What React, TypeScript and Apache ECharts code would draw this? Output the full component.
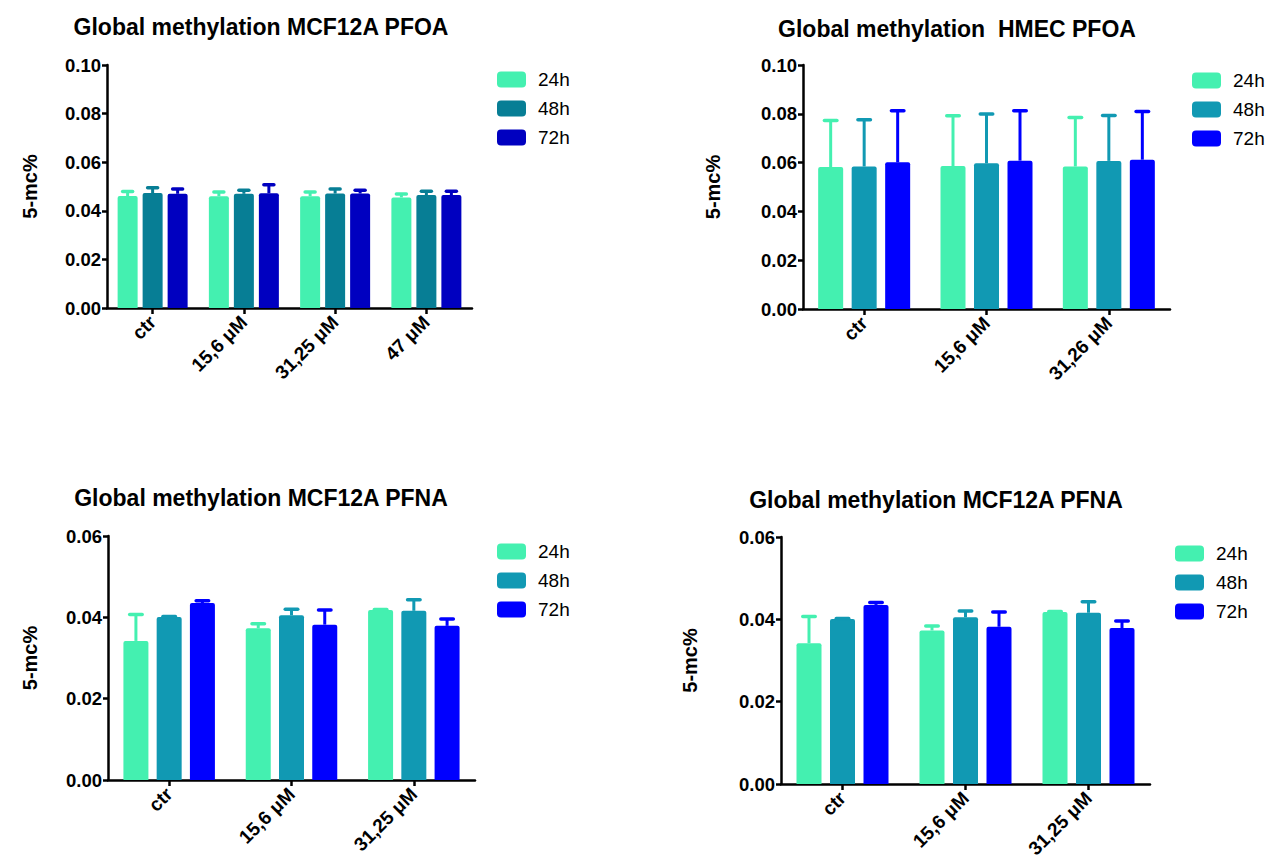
import React, { useEffect, useRef } from "react";
import * as echarts from "echarts";

// ---------- data ----------
const seriesNames = ["24h", "48h", "72h"];

// Panel 1: Global methylation MCF12A PFOA
const p1Title = "Global methylation MCF12A PFOA";
const p1Categories = ["ctr", "15,6 μM", "31,25 μM", "47 μM"];
const p1Mean24 = [0.0461, 0.046, 0.046, 0.0455];
const p1Sd24 = [0.0018, 0.0017, 0.0017, 0.0014];
const p1Mean48 = [0.0473, 0.047, 0.0471, 0.0465];
const p1Sd48 = [0.0022, 0.0015, 0.0019, 0.0015];
const p1Mean72 = [0.047, 0.0472, 0.0471, 0.0465];
const p1Sd72 = [0.002, 0.0035, 0.0014, 0.0015];
const p1Ticks = [0, 0.1, 0.02];

// Panel 2: Global methylation HMEC PFOA
const p2Title = "Global methylation  HMEC PFOA";
const p2Categories = ["ctr", "15,6 μM", "31,26 μM"];
const p2Mean24 = [0.0582, 0.0586, 0.0584];
const p2Sd24 = [0.0191, 0.0206, 0.0201];
const p2Mean48 = [0.0584, 0.0597, 0.0607];
const p2Sd48 = [0.0192, 0.0202, 0.0186];
const p2Mean72 = [0.0601, 0.0608, 0.0612];
const p2Sd72 = [0.0212, 0.0205, 0.0197];
const p2Ticks = [0, 0.1, 0.02];

// Panel 3: Global methylation MCF12A PFNA
const p3Title = "Global methylation MCF12A PFNA";
const p3Categories = ["ctr", "15,6 μM", "31,25 μM"];
const p3Mean24 = [0.0342, 0.0373, 0.0418];
const p3Sd24 = [0.0065, 0.0011, 0.0001];
const p3Mean48 = [0.0401, 0.0405, 0.0416];
const p3Sd48 = [0.0001, 0.0015, 0.0027];
const p3Mean72 = [0.0435, 0.0382, 0.0379];
const p3Sd72 = [0.0006, 0.0036, 0.0017];
const p3Ticks = [0, 0.06, 0.02];

// Panel 4: Global methylation MCF12A PFNA (second copy)
const p4Title = "Global methylation MCF12A PFNA";
const p4Categories = ["ctr", "15,6 μM", "31,25 μM"];
const p4Mean24 = [0.0342, 0.0373, 0.0418];
const p4Sd24 = [0.0065, 0.0011, 0.0001];
const p4Mean48 = [0.0401, 0.0405, 0.0416];
const p4Sd48 = [0.0001, 0.0015, 0.0027];
const p4Mean72 = [0.0435, 0.0382, 0.0379];
const p4Sd72 = [0.0006, 0.0036, 0.0017];
const p4Ticks = [0, 0.06, 0.02];

const yName = "5-mc%";

// ---------- styling / layout ----------
const FONT = "'Liberation Sans', Arial, sans-serif";
const MINT = "#44F0B0";
const colorsDark = [MINT, "#077E95", "#0000C0"];
const colorsBright = [MINT, "#1199B3", "#0000FF"];

const panels = [
  {
    title: p1Title, cats: p1Categories, ticks: p1Ticks,
    means: [p1Mean24, p1Mean48, p1Mean72], sds: [p1Sd24, p1Sd48, p1Sd72],
    colors: colorsDark,
    grid: { left: 107, top: 65, width: 365, height: 243 },
    barWidth: 20, gap: 0.25, nameGap: 67,
    titlePos: { x: 261, y: 15 }, legendPos: { x: 497, y: 70 },
  },
  {
    title: p2Title, cats: p2Categories, ticks: p2Ticks,
    means: [p2Mean24, p2Mean48, p2Mean72], sds: [p2Sd24, p2Sd48, p2Sd72],
    colors: colorsBright,
    grid: { left: 803, top: 65, width: 367, height: 244 },
    barWidth: 25, gap: 0.34, nameGap: 80,
    titlePos: { x: 957, y: 17 }, legendPos: { x: 1192, y: 71 },
  },
  {
    title: p3Title, cats: p3Categories, ticks: p3Ticks,
    means: [p3Mean24, p3Mean48, p3Mean72], sds: [p3Sd24, p3Sd48, p3Sd72],
    colors: colorsBright,
    grid: { left: 108, top: 536, width: 367, height: 244 },
    barWidth: 25, gap: 0.33, nameGap: 68,
    titlePos: { x: 261, y: 486 }, legendPos: { x: 497, y: 542 },
  },
  {
    title: p4Title, cats: p4Categories, ticks: p4Ticks,
    means: [p4Mean24, p4Mean48, p4Mean72], sds: [p4Sd24, p4Sd48, p4Sd72],
    colors: colorsBright,
    grid: { left: 781, top: 537, width: 369, height: 247 },
    barWidth: 25, gap: 0.34, nameGap: 81,
    titlePos: { x: 936, y: 488 }, legendPos: { x: 1175, y: 544 },
  },
];

function buildOption() {
  const title: any[] = [];
  const grid: any[] = [];
  const xAxis: any[] = [];
  const yAxis: any[] = [];
  const legend: any[] = [];
  const series: any[] = [];

  panels.forEach((p, pi) => {
    title.push({
      text: p.title,
      left: p.titlePos.x,
      top: p.titlePos.y,
      textAlign: "center",
      padding: 0,
      textStyle: { fontFamily: FONT, fontSize: 23, fontWeight: "bold", color: "#000" },
    });
    grid.push({ ...p.grid, containLabel: false });
    xAxis.push({
      type: "category",
      gridIndex: pi,
      data: p.cats,
      boundaryGap: true,
      axisLine: { show: true, lineStyle: { color: "#000", width: 2.5 } },
      axisTick: { show: true, alignWithLabel: true, length: 6, lineStyle: { color: "#000", width: 2.5 } },
      axisLabel: {
        rotate: 45, margin: 11, color: "#000", fontFamily: FONT,
        fontSize: 19, fontWeight: "bold", interval: 0,
      },
      splitLine: { show: false },
    });
    yAxis.push({
      type: "value",
      gridIndex: pi,
      min: p.ticks[0],
      max: p.ticks[1],
      interval: p.ticks[2],
      name: yName,
      nameLocation: "middle",
      nameRotate: 90,
      nameGap: p.nameGap,
      nameTextStyle: { fontFamily: FONT, fontSize: 20, fontWeight: "bold", color: "#000" },
      axisLine: { show: true, lineStyle: { color: "#000", width: 2.5 } },
      axisTick: { show: true, length: 5, lineStyle: { color: "#000", width: 2.5 } },
      axisLabel: {
        margin: 6, color: "#000", fontFamily: FONT, fontSize: 18.5, fontWeight: "bold",
        formatter: (v: number) => v.toFixed(2),
      },
      splitLine: { show: false },
    });
    legend.push({
      orient: "vertical",
      left: p.legendPos.x,
      top: p.legendPos.y,
      padding: 0,
      itemWidth: 29,
      itemHeight: 16,
      itemGap: 10,
      icon: "roundRect",
      selectedMode: false,
      textStyle: { fontFamily: FONT, fontSize: 19, color: "#000", padding: [0, 0, 0, 7] },
      data: seriesNames.map((n, i) => ({ name: n, itemStyle: { color: p.colors[i] } })),
    });

    const pitch = p.barWidth * (1 + p.gap);
    seriesNames.forEach((n, si) => {
      const color = p.colors[si];
      series.push({
        type: "bar",
        name: n,
        xAxisIndex: pi,
        yAxisIndex: pi,
        data: p.means[si],
        barWidth: p.barWidth,
        barGap: `${Math.round(p.gap * 100)}%`,
        itemStyle: { color, borderRadius: [2, 2, 0, 0] },
        z: 2,
      });
      const offset = (si - 1) * pitch;
      const capW = p.barWidth * 0.5;
      series.push({
        type: "custom",
        name: n + " SD",
        xAxisIndex: pi,
        yAxisIndex: pi,
        z: 3,
        data: p.means[si].map((m, ci) => [ci, m, p.sds[si][ci]]),
        encode: { x: 0, y: 1 },
        renderItem: (params: any, api: any) => {
          const c = api.value(0);
          const m = api.value(1);
          const s = api.value(2);
          const a = api.coord([c, m]);
          const b = api.coord([c, m + s]);
          const x = a[0] + offset;
          return {
            type: "group",
            children: [
              {
                type: "line",
                shape: { x1: x, y1: a[1], x2: x, y2: b[1] },
                style: { stroke: color, lineWidth: 3 },
              },
              {
                type: "line",
                shape: { x1: x - capW / 2, y1: b[1], x2: x + capW / 2, y2: b[1] },
                style: { stroke: color, lineWidth: 3.5, lineCap: "round" },
              },
            ],
          };
        },
      });
    });
  });

  return {
    animation: false,
    backgroundColor: "#fff",
    textStyle: { fontFamily: FONT },
    title,
    grid,
    xAxis,
    yAxis,
    legend,
    series,
  };
}

export default function App() {
  const ref = useRef<HTMLDivElement>(null);
  useEffect(() => {
    document.body.style.margin = "0";
    if (!ref.current) return;
    const chart = echarts.init(ref.current, null, { renderer: "svg" });
    chart.setOption(buildOption() as any);
    return () => chart.dispose();
  }, []);
  return <div ref={ref} style={{ width: 1269, height: 862 }} />;
}
